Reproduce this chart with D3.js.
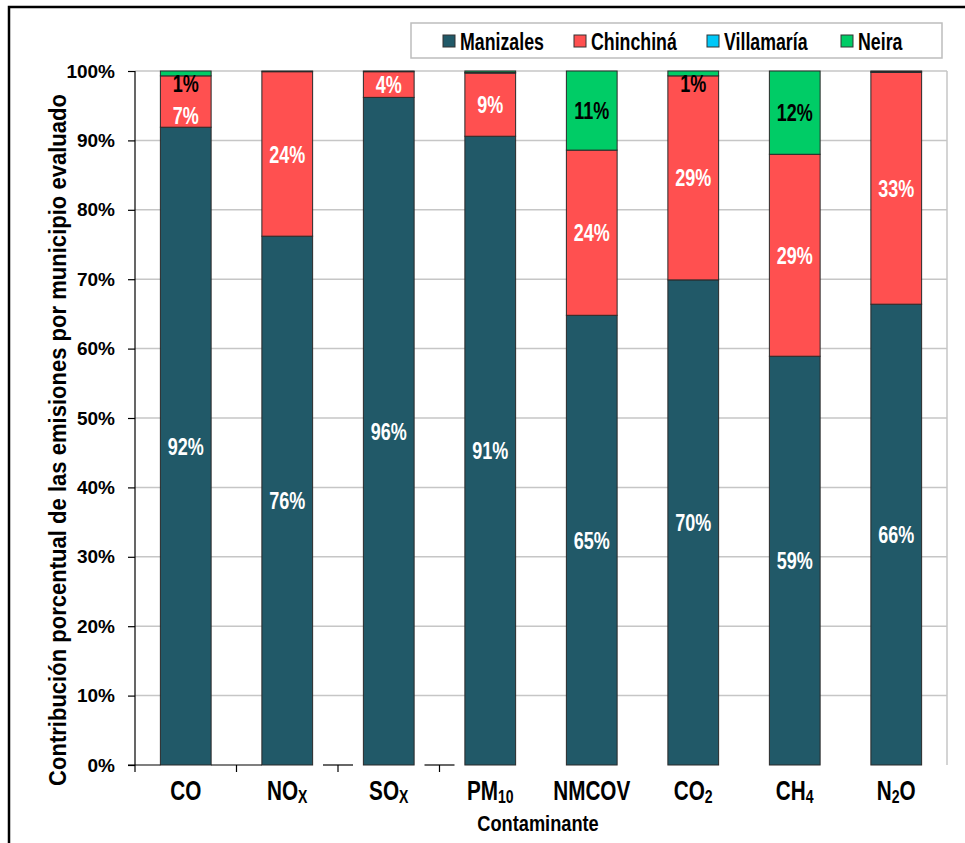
<!DOCTYPE html>
<html>
<head>
<meta charset="utf-8">
<script src="https://cdn.jsdelivr.net/npm/d3@7"></script>
<style>
  html, body { margin: 0; padding: 0; background: #fff; }
  svg { display: block; }
  text { font-family: "Liberation Sans", Arial, sans-serif; font-weight: bold; }
</style>
</head>
<body>
<svg id="chart" width="965" height="843"></svg>
<script>
// Pollutant categories (subscript parts flagged with 1)
const categories = ["CO", "NOX", "SOX", "PM10", "NMCOV", "CO2", "CH4", "N2O"];
const categoryParts = [
  [["CO", 0]],
  [["NO", 0], ["X", 1]],
  [["SO", 0], ["X", 1]],
  [["PM", 0], ["10", 1]],
  [["NMCOV", 0]],
  [["CO", 0], ["2", 1]],
  [["CH", 0], ["4", 1]],
  [["N", 0], ["2", 1], ["O", 0]]
];

// Share of emissions (%) per municipality
const seriesNames = ["Manizales", "Chinchiná", "Villamaría", "Neira"];
const manizales  = [91.9, 76.2, 96.2, 90.6, 64.8, 69.9, 58.9, 66.4];
const chinchina  = [7.4, 23.7, 3.7, 9.1, 23.8, 29.4, 29.1, 33.4];
const villamaria = [0.0, 0.0, 0.0, 0.1, 0.0, 0.0, 0.0, 0.1];
const neira      = [0.7, 0.1, 0.1, 0.2, 11.4, 0.7, 12.0, 0.1];
const seriesColors = ["#215968", "#FF5050", "#00C8F8", "#00CC66"];
const labelColors  = ["#ffffff", "#ffffff", "#000000", "#000000"];

const yTicks = [0, 10, 20, 30, 40, 50, 60, 70, 80, 90, 100];
const yTitle = "Contribución porcentual de las emisiones por municipio evaluado";
const xTitle = "Contaminante";

const svg = d3.select("#chart");
const plot = { left: 135, right: 947, top: 71, bottom: 765 };

// condensed bold text: horizontally squeezed glyphs
function ctext(parent, px, py, str, size, sx, anchor) {
  const g = parent.append("g").attr("transform", `translate(${px},${py}) scale(${sx},1)`);
  const t = g.append("text").attr("font-size", size).attr("text-anchor", anchor || "middle");
  if (str != null) t.text(str);
  return t;
}

// outer frame
svg.append("path")
  .attr("d", `M9,843 V7 H965`)
  .attr("fill", "none").attr("stroke", "#000").attr("stroke-width", 2.5);

const x = d3.scaleBand().domain(categories)
  .range([plot.left, plot.right]).paddingInner(0.5).paddingOuter(0.25);
const y = d3.scaleLinear().domain([0, 100]).range([plot.bottom, plot.top]);

// gridlines
svg.append("g").selectAll("line").data(yTicks.filter(d => d > 0)).join("line")
  .attr("x1", plot.left).attr("x2", plot.right)
  .attr("y1", d => y(d)).attr("y2", d => y(d))
  .attr("stroke", "#c6c6c6").attr("stroke-width", 1.5);
// plot area right edge
svg.append("line")
  .attr("x1", plot.right).attr("x2", plot.right)
  .attr("y1", plot.top).attr("y2", plot.bottom)
  .attr("stroke", "#c6c6c6").attr("stroke-width", 1.5);

// stacked data
const table = categories.map((c, i) => ({
  cat: c,
  Manizales: manizales[i], "Chinchiná": chinchina[i],
  "Villamaría": villamaria[i], Neira: neira[i]
}));
const stacked = d3.stack().keys(seriesNames)(table);

const barG = svg.append("g");
stacked.forEach((layer, si) => {
  barG.append("g").selectAll("rect").data(layer).join("rect")
    .attr("x", d => x(d.data.cat))
    .attr("width", x.bandwidth())
    .attr("y", d => y(d[1]))
    .attr("height", d => Math.max(0, y(d[0]) - y(d[1])))
    .attr("fill", seriesColors[si])
    .attr("stroke", "#2a2a2a").attr("stroke-width", 1);
});

// value labels, kept inside the plot and clear of each other
const labelG = svg.append("g");
categories.forEach((c, ci) => {
  let prev = -Infinity;
  for (let si = seriesNames.length - 1; si >= 0; si--) {
    const seg = stacked[si][ci];
    const v = seg[1] - seg[0];
    if (si === 2 || v < 0.5) continue;
    let cy = (y(seg[0]) + y(seg[1])) / 2;
    cy = Math.max(cy, plot.top + 12, prev + 32);
    prev = cy;
    ctext(labelG, x(c) + x.bandwidth() / 2, cy + 8.6, Math.round(v) + "%", 24, 0.75)
      .attr("fill", labelColors[si]);
  }
});

// y axis
const yAxis = d3.axisLeft(y).tickValues(yTicks).tickFormat(d => d + "%").tickSize(7).tickPadding(13);
const yg = svg.append("g").attr("transform", `translate(${plot.left},0)`).call(yAxis);
yg.select(".domain").remove();
yg.selectAll(".tick line").attr("stroke", "#000").attr("stroke-width", 1.2);
yg.selectAll(".tick text")
  .attr("font-family", "'Liberation Sans', Arial, sans-serif")
  .attr("font-weight", "bold").attr("font-size", 19).attr("fill", "#000");
svg.append("line")
  .attr("x1", plot.left).attr("x2", plot.left)
  .attr("y1", plot.top).attr("y2", plot.bottom + 7)
  .attr("stroke", "#000").attr("stroke-width", 1.2);

// category axis: baseline pieces and boundary ticks
const step = x.step();
const baseG = svg.append("g").attr("stroke", "#000").attr("stroke-width", 1.2);
baseG.append("line")
  .attr("x1", plot.left - 7).attr("x2", x(categories[0]))
  .attr("y1", plot.bottom).attr("y2", plot.bottom);
[1, 2, 3].forEach(k => {
  const bx = plot.left + k * step;
  const half = k === 1 ? (step - x.bandwidth()) / 2 : 15;
  baseG.append("line")
    .attr("x1", bx - half).attr("x2", bx + half)
    .attr("y1", plot.bottom).attr("y2", plot.bottom);
  baseG.append("line")
    .attr("x1", bx).attr("x2", bx)
    .attr("y1", plot.bottom).attr("y2", plot.bottom + 7);
});

// category labels
const xl = svg.append("g");
categories.forEach((c, ci) => {
  const t = ctext(xl, x(c) + x.bandwidth() / 2, 800, null, 28, 0.74);
  let n = 0;
  categoryParts[ci].forEach(([s, sub]) => {
    const ts = t.append("tspan").text(s);
    if (sub) ts.attr("font-size", 19).attr("dy", 3);
    else if (n > 0) ts.attr("dy", -3);
    n++;
  });
});

// axis titles
ctext(svg, 538, 831, xTitle, 22.5, 0.81);
svg.append("g").attr("transform", "translate(66,440) rotate(-90) scale(0.9,1)")
  .append("text")
  .attr("text-anchor", "middle").attr("font-size", 24.5)
  .text(yTitle);

// legend
const lg = svg.append("g");
lg.append("rect").attr("x", 411).attr("y", 23).attr("width", 531).attr("height", 35)
  .attr("fill", "#fff").attr("stroke", "#bdbdbd").attr("stroke-width", 1.5);
const legendX = [443, 574, 707, 841];
seriesNames.forEach((n, i) => {
  lg.append("rect").attr("x", legendX[i]).attr("y", 35).attr("width", 12).attr("height", 12)
    .attr("fill", seriesColors[i]).attr("stroke", "#333").attr("stroke-width", 1);
  ctext(lg, legendX[i] + 17, 49.5, n, 24, 0.74, "start");
});
</script>
</body>
</html>
